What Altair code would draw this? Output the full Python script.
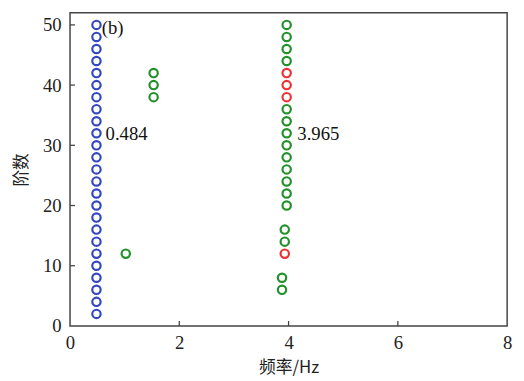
import altair as alt
import pandas as pd

# Mode data (frequency in Hz, order, group)
blue_freq = [0.484, 0.484, 0.484, 0.484, 0.484, 0.484, 0.484, 0.484, 0.484, 0.484,
             0.484, 0.484, 0.484, 0.484, 0.484, 0.484, 0.484, 0.484, 0.484, 0.484,
             0.484, 0.484, 0.484, 0.484, 0.484]
blue_order = [2, 4, 6, 8, 10, 12, 14, 16, 18, 20, 22, 24, 26, 28, 30, 32, 34, 36,
              38, 40, 42, 44, 46, 48, 50]

green_freq = [1.02, 1.53, 1.53, 1.53,
              3.88, 3.88, 3.93, 3.93, 3.965, 3.965, 3.965, 3.965, 3.965, 3.965,
              3.965, 3.965, 3.965, 3.965, 3.965, 3.965, 3.965]
green_order = [12, 38, 40, 42,
               6, 8, 14, 16, 20, 22, 24, 26, 28, 30, 32, 34, 36, 44, 46, 48, 50]

red_freq = [3.93, 3.965, 3.965, 3.965]
red_order = [12, 38, 40, 42]

x_ticks = [0, 2, 4, 6, 8]
y_ticks = [0, 10, 20, 30, 40, 50]

labels_text = ["(b)", "0.484", "3.965"]
labels_x = [0.58, 0.65, 4.16]
labels_y = [49.4, 31.8, 31.8]

rows = []
for f, o in zip(blue_freq, blue_order):
    rows.append({"freq": f, "order": o, "grp": "blue"})
for f, o in zip(green_freq, green_order):
    rows.append({"freq": f, "order": o, "grp": "green"})
for f, o in zip(red_freq, red_order):
    rows.append({"freq": f, "order": o, "grp": "red"})
df = pd.DataFrame(rows)

W, H = 444, 318
FONT = "Liberation Serif"
CJK = "Noto Sans CJK SC"

xs = alt.Scale(domain=[0, 8], nice=False, zero=False)
ys = alt.Scale(domain=[0, 52], nice=False, zero=False)

points = alt.Chart(df).mark_point(shape="circle", filled=False, size=72, strokeWidth=2.2,
                                  opacity=1).encode(
    x=alt.X("freq:Q", scale=xs,
            axis=alt.Axis(values=x_ticks, format="d", title="频率/Hz", grid=False, domain=False,
                          ticks=False, labelPadding=8, labelFontSize=19,
                          titleFontSize=17, titleFontWeight="normal", titlePadding=7,
                          labelFont=FONT, titleFont=CJK, labelColor="#222",
                          titleColor="#222", labelFlush=False)),
    y=alt.Y("order:Q", scale=ys,
            axis=alt.Axis(values=y_ticks, format="d", title="阶数", grid=False, domain=False,
                          ticks=False, labelPadding=9, labelFontSize=19,
                          titleFontSize=17, titleFontWeight="normal", titlePadding=12,
                          labelFont=FONT, titleFont=CJK, labelColor="#222",
                          titleColor="#222", labelFlush=False)),
    color=alt.Color("grp:N", scale=alt.Scale(domain=["blue", "green", "red"],
                                             range=["#3347c0", "#22912a", "#ee3035"]),
                    legend=None),
)

tdf = pd.DataFrame({"t": labels_text, "x": labels_x, "y": labels_y})
texts = alt.Chart(tdf).mark_text(align="left", baseline="middle", fontSize=19,
                                 font=FONT, color="#111").encode(
    x=alt.X("x:Q", scale=xs), y=alt.Y("y:Q", scale=ys), text="t:N")

xt = pd.DataFrame({"v": x_ticks[1:-1]})
xtick_rules = alt.Chart(xt).mark_rule(color="#444", strokeWidth=1.3).encode(
    x=alt.X("v:Q", scale=xs), y=alt.value(H), y2=alt.value(H - 5))

yt = pd.DataFrame({"v": y_ticks[1:]})
ytick_rules = alt.Chart(yt).mark_rule(color="#444", strokeWidth=1.3).encode(
    y=alt.Y("v:Q", scale=ys), x=alt.value(0), x2=alt.value(5))

chart = alt.layer(xtick_rules, ytick_rules, points, texts).properties(
    width=W, height=H,
    autosize=alt.AutoSizeParams(type="none"),
    padding={"left": 63, "top": 2, "right": 9, "bottom": 53},
).configure_view(stroke="#444", strokeWidth=1.5)

chart.save("out.html", embed_options={"renderer": "svg", "actions": False})
